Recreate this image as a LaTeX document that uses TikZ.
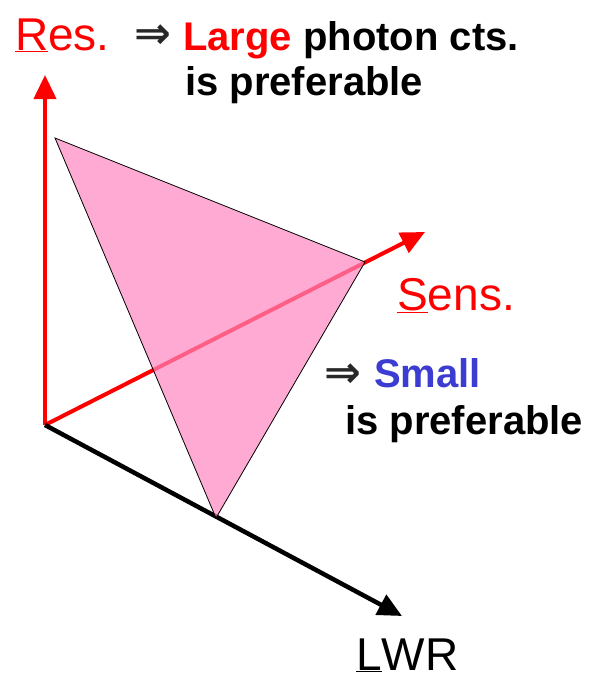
\documentclass[tikz,border=0pt]{standalone}
\usepackage{fontspec}
\setmainfont{Liberation Sans}
\newfontfamily\arrowfont{DejaVu Sans}
\usetikzlibrary{arrows.meta}
\definecolor{axred}{RGB}{255,0,0}
\definecolor{pinkfill}{RGB}{255,134,191}
\definecolor{smallblue}{RGB}{60,60,210}
\definecolor{impgray}{RGB}{40,40,40}
\begin{document}
\begin{tikzpicture}[x=1pt,y=-1pt,
  redaxis/.style={draw=axred,line width=4pt,-{Triangle[length=24pt,width=22pt]}},
  blackaxis/.style={draw=black,line width=4.5pt,-{Triangle[length=24pt,width=22pt]}},
  tri/.style={draw=black,line width=0.8pt,fill=pinkfill,fill opacity=0.7},
  axlabel/.style={anchor=base west,inner sep=0pt,font=\fontsize{46}{52}\selectfont},
  note/.style={anchor=base west,inner sep=0pt,font=\fontsize{40}{48}\selectfont\bfseries},
  imp/.style={anchor=center,inner sep=0pt,text=impgray,font=\arrowfont\bfseries\fontsize{44}{50}\selectfont}
]
\useasboundingbox (0,0) rectangle (590,680);
\coordinate (O) at (45,425);
\coordinate (R) at (45,75);
\coordinate (S) at (425,232);
\coordinate (L) at (402,616);
\coordinate (A) at (55,138);
\coordinate (B) at (365,262);
\coordinate (C) at (216,518);
\draw[redaxis] (O) -- (R);
\draw[redaxis] (O) -- (S);
\draw[blackaxis] (O) -- (L);
\draw[tri] (A) -- (B) -- (C) -- cycle;
% labels
\node[axlabel,text=axred] (res) at (15,50) {\underline{R}es.};
\node[imp] (imp1) at (153,37) {⇒};
\node[note] (large) at (183,50) {\textcolor{axred}{Large} photon cts.};
\node[note] (pref1) at (185,95) {is preferable};
\node[axlabel,text=axred] (sens) at (397,310) {\underline{S}ens.};
\node[imp] (imp2) at (343,376) {⇒};
\node[note,text=smallblue] (small) at (374,387) {Small};
\node[note] (pref2) at (345,434) {is preferable};
\node[axlabel] (lwr) at (356,670) {\underline{L}WR};
\end{tikzpicture}
\end{document}
